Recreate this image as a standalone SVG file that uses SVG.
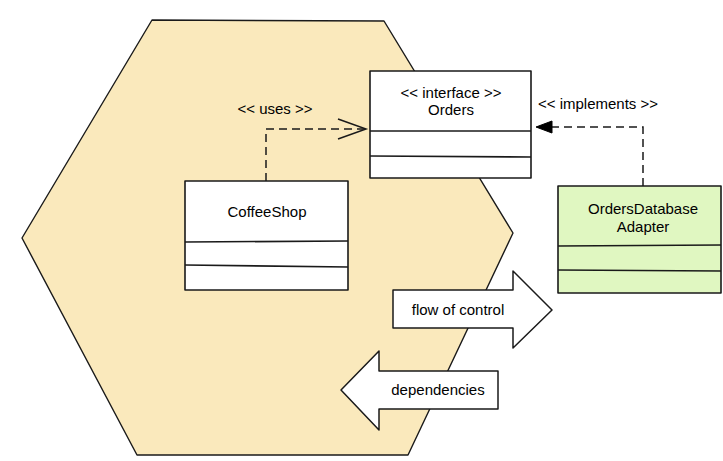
<svg xmlns="http://www.w3.org/2000/svg" width="723" height="461" viewBox="0 0 723 461">
  <style>
    .t { font-family: "Liberation Sans", Arial, sans-serif; font-size: 15px; fill: #000; text-anchor: middle; dominant-baseline: central; }
    .box { stroke: #1a1a1a; stroke-width: 1.6; stroke-linejoin: round; }
    .div { stroke: #1a1a1a; stroke-width: 1.6; fill: none; }
    .dash { fill: none; stroke: #1a1a1a; stroke-width: 1.5; stroke-dasharray: 8 5; }
    .arr { fill: #fff; stroke: #1a1a1a; stroke-width: 1.5; stroke-linejoin: round; }
  </style>
  <defs>
    <marker id="open" markerWidth="32" markerHeight="24" refX="29" refY="11" orient="auto" markerUnits="userSpaceOnUse">
      <path d="M1,1 L29,11 L1,21" fill="none" stroke="#1a1a1a" stroke-width="1.5"/>
    </marker>
    <marker id="filled" markerWidth="20" markerHeight="16" refX="17" refY="7" orient="auto" markerUnits="userSpaceOnUse">
      <path d="M1,1 L17,7 L1,13 Z" fill="#000" stroke="#000" stroke-width="1"/>
    </marker>
  </defs>
  <rect width="723" height="461" fill="#fff"/>

  <g id="hexagon">
    <path d="M152,20 L384,21 L513,233 L408,455 L137,455 L22,238 Z" fill="#fae9bc" stroke="#1a1a1a" stroke-width="1.4" stroke-linejoin="round"/>
  </g>

  <g id="connectors">
    <path class="dash" d="M266,181 L266,129 L366,129" marker-end="url(#open)"/>
    <text class="t" x="275" y="108">&lt;&lt; uses &gt;&gt;</text>
    <path class="dash" d="M643,186 L643,127 L536,127" marker-end="url(#filled)"/>
    <text class="t" x="598" y="103">&lt;&lt; implements &gt;&gt;</text>
  </g>

  <g id="orders">
    <rect class="box" x="370" y="71" width="161" height="107" fill="#fff"/>
    <line class="div" x1="370" y1="131" x2="531" y2="131"/>
    <line class="div" x1="370" y1="156" x2="531" y2="157"/>
    <text class="t" x="451" y="92">&lt;&lt; interface &gt;&gt;</text>
    <text class="t" x="451" y="109">Orders</text>
  </g>

  <g id="coffeeshop">
    <rect class="box" x="185" y="181" width="163" height="109" fill="#fff"/>
    <line class="div" x1="185" y1="242" x2="348" y2="241"/>
    <line class="div" x1="185" y1="265" x2="348" y2="267"/>
    <text class="t" x="267" y="211">CoffeeShop</text>
  </g>

  <g id="adapter">
    <rect class="box" x="558" y="186" width="163" height="107" fill="#e0f7c1"/>
    <line class="div" x1="558" y1="246" x2="721" y2="245"/>
    <line class="div" x1="558" y1="270" x2="721" y2="271"/>
    <text class="t" x="643" y="208">OrdersDatabase</text>
    <text class="t" x="643" y="226">Adapter</text>
  </g>

  <g id="flow-of-control">
    <path class="arr" d="M393,290 L513,290 L513,271 L552,310 L513,348 L513,328 L393,328 Z"/>
    <text class="t" x="458" y="309">flow of control</text>
  </g>

  <g id="dependencies">
    <path class="arr" d="M498,371 L379,371 L379,351 L341,390 L379,430 L379,409 L498,409 Z"/>
    <text class="t" x="438" y="389">dependencies</text>
  </g>
</svg>
